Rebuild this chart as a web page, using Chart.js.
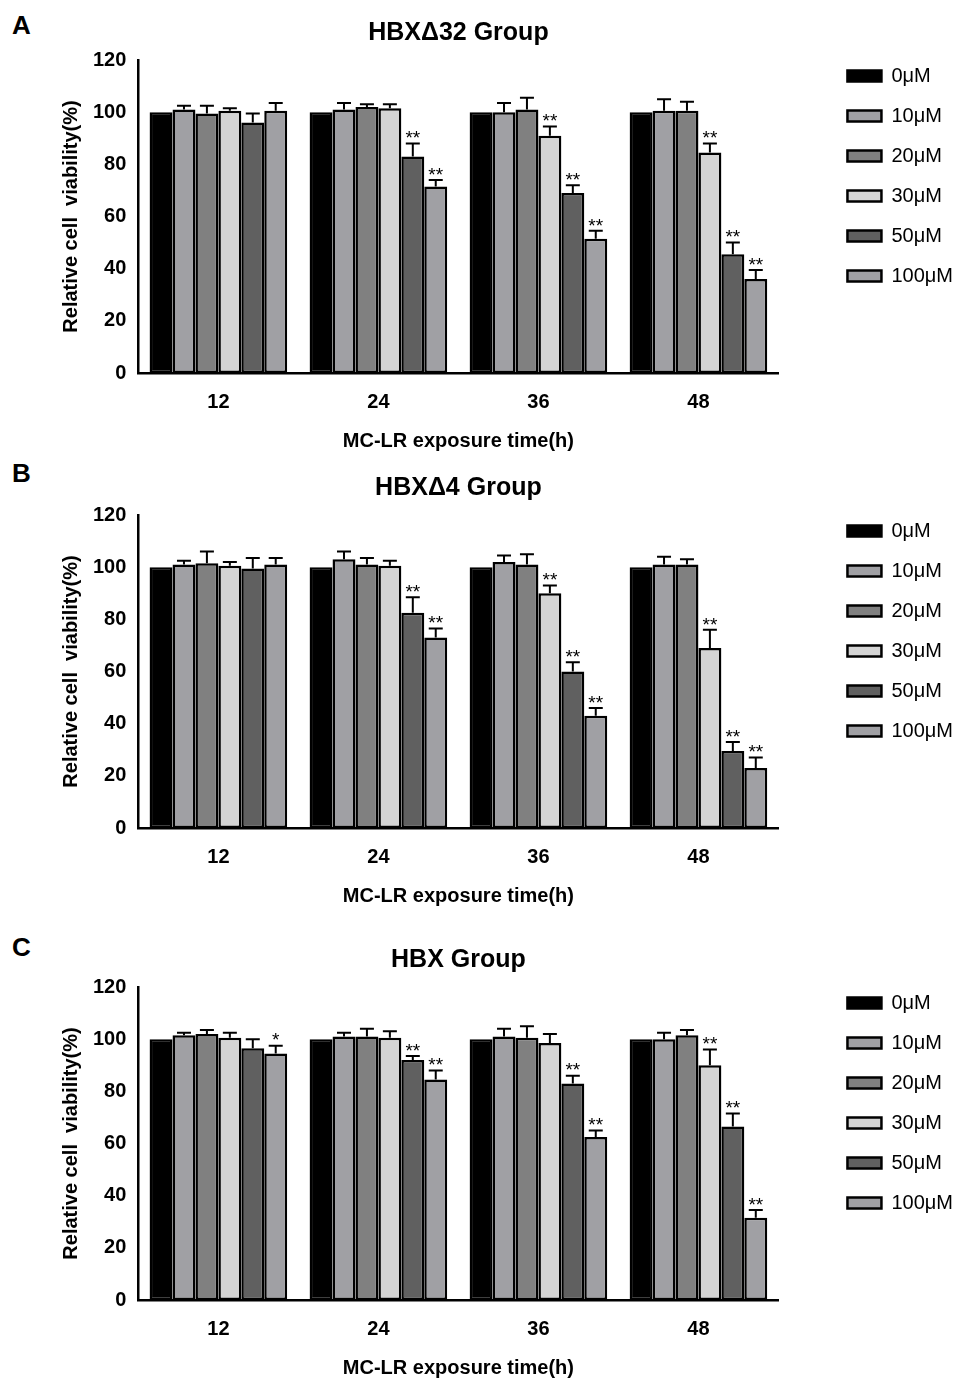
<!DOCTYPE html>
<html><head><meta charset="utf-8">
<script src="https://cdn.jsdelivr.net/npm/chart.js@4"></script>
<style>
body{margin:0;background:#fff;width:971px;height:1378px;position:relative;overflow:hidden;font-family:Arial,"Liberation Sans",sans-serif}
.w{position:absolute;left:0;width:971px;height:465px}
.lab{position:absolute;left:12px;font:bold 26px "Liberation Sans",Arial,sans-serif}
</style></head><body>
<div class="lab" style="top:10px">A</div>
<div class="lab" style="top:458px">B</div>
<div class="lab" style="top:932px">C</div>
<div class="w" style="top:0"><canvas id="cA"></canvas></div>
<div class="w" style="top:455px"><canvas id="cB"></canvas></div>
<div class="w" style="top:927px"><canvas id="cC"></canvas></div>
<script>
const categories=["12","24","36","48"];
const doses=["0μM","10μM","20μM","30μM","50μM","100μM"];
const colors=["#000000","#a0a0a4","#808080","#d4d4d4","#606060","#a0a0a4"];
// values[dose][time]
const valuesA=[[100,100,100,100],[101,101,100,100.5],[99.5,102,101,100.5],[100.5,101.5,91,84.5],[96,83,69,45.5],[100.5,71.5,51.5,36]];
const errorsA=[[0,0,0,0],[1.5,2.5,3.5,4.5],[3,1,4.5,3.5],[1,1.5,3.5,3.5],[3.5,5,3,4.5],[3,2.5,3,3.5]];
const sigA=[["","","",""],["","","",""],["","","",""],["","","**","**"],["","**","**","**"],["","**","**","**"]];
const valuesB=[[100,100,100,100],[101,103,102,101],[101.5,101,101,101],[100.5,100.5,90,69],[99.5,82.5,60,29.5],[101,73,43,23]];
const errorsB=[[0,0,0,0],[1.5,3,2.5,3],[4.5,2.5,4,2],[1.5,2,3,7],[4,6,3.5,3.5],[2.5,3.5,3,4]];
const sigB=sigA;
const valuesC=[[100,100,100,100],[101.5,101,101,100],[102,101,100.5,101.5],[100.5,100.5,98.5,90],[96.5,92,83,66.5],[94.5,84.5,62.5,31.5]];
const errorsC=[[0,0,0,0],[1,1.5,3,2.5],[1.5,3,4.5,2],[2,2.5,3.5,6],[3.5,1.5,3,5],[3,3.5,2.5,3]];
const sigC=[["","","",""],["","","",""],["","","",""],["","","","**"],["","**","**","**"],["*","**","**","**"]];
const yTicks=[0,20,40,60,80,100,120];

const errPlugin={id:'err',afterDatasetsDraw(ch){
  const c=ch.ctx;const y=ch.scales.y;const o=ch.options.plugins.err;
  ch.data.datasets.forEach((ds,i)=>{
    ch.getDatasetMeta(i).data.forEach((b,j)=>{
      const e=o.errors[i][j];const v=ds.data[j];
      const top=y.getPixelForValue(v+e);
      c.save();c.strokeStyle='#000';c.lineWidth=2;
      if(e>0){c.beginPath();c.moveTo(b.x,b.y);c.lineTo(b.x,top);c.moveTo(b.x-7,top);c.lineTo(b.x+7,top);c.stroke();}
      const s=o.sig[i][j];
      if(s){c.fillStyle='#000';c.font='19px "Liberation Sans",Arial';c.textAlign='center';c.textBaseline='bottom';c.fillText(s,b.x,top+5);}
      c.restore();
    });
  });
}};
const GAP=57, LTOP=36;
const layoutPlugin={id:'lay',
  beforeInit(ch){const l=ch.legend;const f=l.fit;l.fit=function(){f.call(this);this.width+=GAP;};},
  afterLayout(ch){const l=ch.legend;l.left+=GAP-8;l.top+=LTOP;
    const t=ch.titleBlock;t.left=ch.chartArea.left;t.right=ch.chartArea.right;t.width=t.right-t.left;}
};

function make(id,title,vals,errs,sig){
  new Chart(document.getElementById(id),{type:'bar',
    data:{labels:categories,datasets:doses.map((d,i)=>({label:d,data:vals[i],backgroundColor:colors[i],borderColor:'#000',borderWidth:2.5,borderSkipped:false}))},
    options:{responsive:true,maintainAspectRatio:false,animation:false,
      layout:{padding:{left:55,right:0,top:10,bottom:8}},
      datasets:{bar:{barPercentage:1,categoryPercentage:0.86}},
      scales:{
        x:{grid:{display:false,drawTicks:true,tickLength:8,tickColor:'#000'},border:{color:'#000',width:2.5},
          ticks:{color:'#000',font:{size:20,weight:'bold',family:'Liberation Sans'},padding:9},
          title:{display:true,text:'MC-LR exposure time(h)',color:'#000',font:{size:20,weight:'bold',family:'Liberation Sans'},padding:{top:6}}},
        y:{min:0,max:120,afterBuildTicks:a=>{a.ticks=yTicks.map(v=>({value:v}));},
          grid:{display:false,drawTicks:true,tickLength:8,tickColor:'#000'},border:{color:'#000',width:2.5},
          ticks:{color:'#000',font:{size:20,weight:'bold',family:'Liberation Sans'},padding:4},
          title:{display:true,text:'Relative cell  viability(%)',color:'#000',font:{size:20,weight:'bold',family:'Liberation Sans'},padding:{bottom:6}}}
      },
      plugins:{
        title:{display:true,text:title,color:'#000',font:{size:25,weight:'bold',family:'Liberation Sans'},padding:{top:8,bottom:12}},
        legend:{position:'right',align:'start',labels:{boxWidth:34,boxHeight:11,padding:20,color:'#000',font:{size:20,family:'Liberation Sans'}}},
        tooltip:{enabled:false},
        err:{errors:errs,sig:sig}
      }},
    plugins:[errPlugin,layoutPlugin]});
}
make('cA','HBXΔ32 Group',valuesA,errorsA,sigA);
make('cB','HBXΔ4 Group',valuesB,errorsB,sigB);
make('cC','HBX Group',valuesC,errorsC,sigC);
</script></body></html>
